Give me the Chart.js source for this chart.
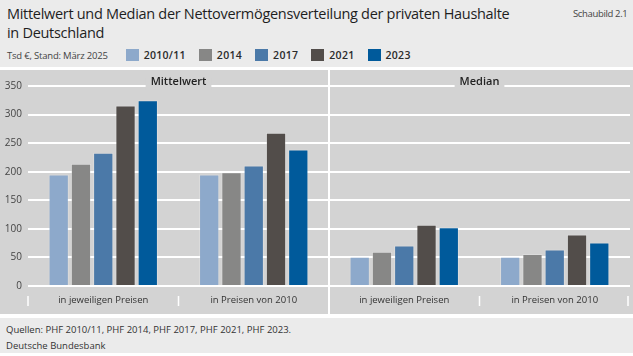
<!DOCTYPE html>
<html>
<head>
<meta charset="utf-8">
<script src="https://cdn.jsdelivr.net/npm/chart.js@4/dist/chart.umd.min.js"></script>
<style>
  html, body { margin:0; padding:0; background:#ffffff; }
  body { width:633px; height:356px; position:relative; overflow:hidden; font-family:"Open Sans", sans-serif; }
  #header { position:absolute; left:0; top:0; width:633px; height:67px; background:#ebebeb; }
  #title { position:absolute; left:7px; top:4px; font-size:14.5px; line-height:19px; color:#1e1e1e; letter-spacing:-0.3px; }
  #fig { position:absolute; left:573px; top:7px; font-size:9.5px; color:#444; letter-spacing:-0.35px; }
  #sub { position:absolute; left:7px; top:48px; display:flex; align-items:center; font-size:9.5px; color:#444; letter-spacing:-0.2px; }
  #sub .unit { margin-right:18px; }
  .item { display:flex; align-items:center; margin-right:13px; font-weight:600; color:#2a2a2a; font-size:10.5px; letter-spacing:0.3px; }
  .sw { width:13px; height:12px; margin-right:5px; display:inline-block; }
  #panel { position:absolute; left:0; top:70px; width:633px; height:244px; background:#d3d3d3; }
  #footer { position:absolute; left:0; top:318px; width:633px; height:35px; background:#ebebeb; font-size:9.5px; color:#333; }
  #footer div { position:absolute; left:6px; }
</style>
</head>
<body>
<div id="header">
  <div id="title">Mittelwert und Median der Nettovermögensverteilung der privaten Haushalte<br>in Deutschland</div>
  <div id="fig">Schaubild 2.1</div>
  <div id="sub"><span class="unit">Tsd €, Stand: März 2025</span><span id="legend" style="display:flex"></span></div>
</div>
<div id="panel"><canvas id="c" width="633" height="244"></canvas></div>
<div id="footer">
  <div style="top:5px">Quellen: PHF 2010/11, PHF 2014, PHF 2017, PHF 2021, PHF 2023.</div>
  <div style="top:21px">Deutsche Bundesbank</div>
</div>
<script>
// ---- data ----
const categories = ['in jeweiligen Preisen', 'in Preisen von 2010', 'in jeweiligen Preisen', 'in Preisen von 2010'];
const panelTitles = ['Mittelwert', 'Median'];
const seriesNames = ['2010/11', '2014', '2017', '2021', '2023'];
const values2010_11 = [195, 195, 51, 51];
const values2014 = [214, 199, 60, 56];
const values2017 = [233, 211, 71, 64];
const values2021 = [316, 268, 107, 90];
const values2023 = [325, 239, 103, 76];
const yTickMin = 0, yTickMax = 350, yTickStep = 50;
const seriesColors = ['#8da9cb', '#878786', '#4b79a8', '#524d4a', '#005a9b'];

const seriesValues = [values2010_11, values2014, values2017, values2021, values2023];

// HTML legend
const leg = document.getElementById('legend');
seriesNames.forEach((n, i) => {
  const it = document.createElement('span');
  it.className = 'item';
  it.innerHTML = '<span class="sw" style="background:' + seriesColors[i] + '"></span>' + n;
  leg.appendChild(it);
});

Chart.defaults.font.family = '"Open Sans", sans-serif';

const decor = {
  id: 'decor',
  beforeDatasetsDraw(chart) {
    const ctx = chart.ctx, x = chart.scales.x, y = chart.scales.y;
    const area = chart.chartArea;
    ctx.save();
    // panel titles over top gridline
    ctx.font = '600 11px "Open Sans", sans-serif';
    ctx.textAlign = 'center';
    ctx.textBaseline = 'middle';
    const topY = y.getPixelForValue(yTickMax);
    panelTitles.forEach((t, i) => {
      const cx = (x.getPixelForValue(i * 2) + x.getPixelForValue(i * 2 + 1)) / 2;
      const w = ctx.measureText(t).width + 10;
      ctx.fillStyle = '#d3d3d3';
      ctx.fillRect(cx - w / 2, topY - 8, w, 12);
      ctx.fillStyle = '#222';
      ctx.fillText(t, cx, topY - 4);
    });
    // vertical divider
    const mid = (x.getPixelForValue(1) + x.getPixelForValue(2)) / 2;
    ctx.strokeStyle = '#ffffff';
    ctx.lineWidth = 2;
    ctx.beginPath();
    ctx.moveTo(mid, 0);
    ctx.lineTo(mid, chart.height);
    ctx.stroke();
    // small category ticks
    const ticksX = [area.left, (x.getPixelForValue(0) + x.getPixelForValue(1)) / 2,
                    (x.getPixelForValue(2) + x.getPixelForValue(3)) / 2, area.right - 2];
    ctx.lineWidth = 1.5;
    ticksX.forEach(tx => {
      ctx.beginPath();
      ctx.moveTo(tx, area.bottom + 10);
      ctx.lineTo(tx, area.bottom + 20);
      ctx.stroke();
    });
    ctx.restore();
  }
};

new Chart(document.getElementById('c'), {
  type: 'bar',
  data: {
    labels: categories,
    datasets: seriesNames.map((n, i) => ({
      label: n,
      data: seriesValues[i],
      backgroundColor: seriesColors[i],
      borderColor: 'rgba(255,255,255,0.22)',
      borderWidth: 1,
      categoryPercentage: 0.74,
      barPercentage: 0.91
    }))
  },
  options: {
    responsive: false,
    animation: false,
    layout: { padding: { top: 16, right: 3, left: 0, bottom: 0 } },
    plugins: { legend: { display: false }, tooltip: { enabled: false } },
    scales: {
      y: {
        min: yTickMin, max: yTickMax,
        ticks: { stepSize: yTickStep, color: '#444', font: { size: 10 }, padding: 6 },
        grid: { color: '#ffffff', lineWidth: 2, drawTicks: false },
        border: { display: false },
        afterFit(s) { s.width = 28; }
      },
      x: {
        ticks: { color: '#333', font: { size: 9.5 }, padding: 9 },
        grid: { display: false, drawTicks: false },
        border: { display: false },
        afterFit(s) { s.height = 28; }
      }
    }
  },
  plugins: [decor]
});
</script>
</body>
</html>
